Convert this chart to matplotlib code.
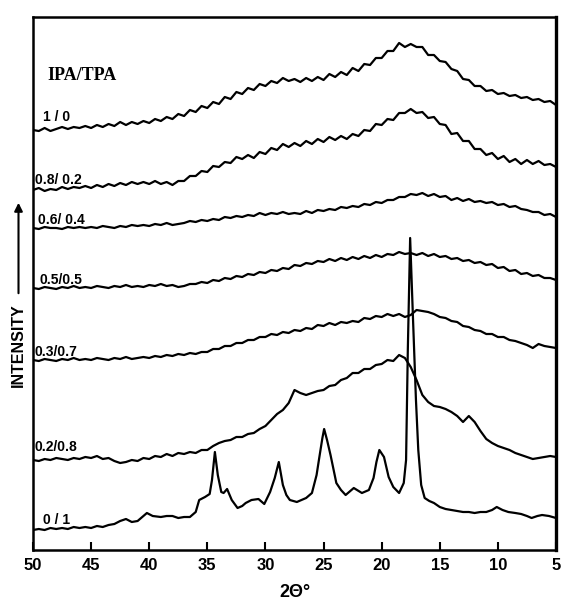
"""WAXD patterns of IPA/TPA copolyesters (scan redraw)."""
import matplotlib
matplotlib.use("Agg")
import matplotlib.pyplot as plt
import numpy as np

# 2-theta grid (deg) for the amorphous-looking traces, 50 -> 5 in 0.5 steps
TWO_THETA = np.linspace(50.0, 5.0, 91)

# intensities (arbitrary units, already offset per trace)
I_10 = [420, 419, 422, 419, 421, 423, 421, 423, 422, 424,
        422, 425, 423, 426, 424, 428, 425, 428, 426, 429,
        427, 431, 429, 433, 431, 436, 434, 440, 438, 444,
        442, 448, 446, 453, 451, 458, 456, 462, 460, 466,
        464, 469, 467, 472, 469, 471, 468, 472, 469, 473,
        470, 476, 473, 478, 475, 482, 479, 486, 485, 492,
        492, 499, 499, 507, 503, 506, 503, 503, 495, 495,
        489, 488, 481, 479, 471, 470, 464, 464, 459, 460,
        456, 457, 454, 455, 452, 453, 450, 451, 448, 449,
        445]
I_08 = [360, 362, 359, 361, 360, 363, 361, 363, 362, 364,
        362, 365, 363, 366, 364, 367, 365, 368, 366, 368,
        366, 369, 366, 368, 365, 369, 369, 374, 374, 379,
        378, 384, 383, 388, 387, 393, 391, 395, 392, 398,
        396, 402, 400, 406, 403, 407, 404, 409, 406, 411,
        408, 413, 410, 414, 411, 416, 414, 420, 419, 426,
        425, 431, 430, 437, 437, 441, 437, 438, 432, 433,
        426, 425, 416, 417, 409, 409, 401, 401, 395, 397,
        391, 394, 388, 391, 386, 390, 386, 389, 385, 386,
        383]
I_06 = [322, 321, 323, 322, 322, 321, 323, 322, 323, 322,
        323, 322, 324, 323, 322, 324, 323, 325, 324, 325,
        324, 326, 325, 327, 325, 326, 327, 329, 328, 330,
        329, 331, 330, 333, 332, 334, 333, 335, 334, 337,
        335, 337, 336, 338, 336, 337, 336, 339, 337, 340,
        339, 341, 340, 343, 342, 344, 343, 346, 345, 348,
        347, 350, 350, 353, 353, 356, 355, 357, 354, 356,
        353, 354, 350, 352, 349, 351, 348, 349, 347, 348,
        345, 346, 343, 344, 341, 340, 338, 338, 335, 336,
        333]
I_05 = [262, 261, 263, 262, 261, 263, 262, 264, 262, 263,
        262, 264, 263, 262, 264, 263, 265, 263, 264, 263,
        265, 264, 266, 264, 265, 263, 264, 266, 266, 268,
        267, 270, 269, 272, 271, 274, 273, 276, 275, 278,
        277, 280, 279, 282, 281, 285, 284, 287, 286, 289,
        288, 291, 289, 292, 290, 293, 291, 294, 292, 295,
        293, 296, 295, 298, 296, 297, 295, 297, 294, 296,
        293, 294, 291, 292, 289, 290, 287, 288, 285, 286,
        282, 283, 279, 280, 276, 277, 274, 275, 272, 272,
        270]
I_03 = [190, 189, 191, 190, 189, 191, 190, 192, 190, 191,
        190, 192, 191, 190, 192, 191, 193, 191, 192, 193,
        192, 194, 193, 195, 194, 196, 195, 197, 196, 198,
        198, 201, 201, 204, 204, 207, 207, 210, 210, 213,
        213, 216, 215, 218, 217, 220, 219, 222, 221, 225,
        224, 227, 225, 228, 227, 229, 228, 232, 231, 234,
        233, 236, 234, 236, 233, 235, 240, 239, 238, 236,
        233, 232, 229, 228, 224, 223, 220, 219, 216, 216,
        213, 213, 210, 209, 207, 205, 202, 206, 204, 203,
        202]
I_02 = [90, 89, 91, 90, 92, 91, 90, 92, 91, 93,
        92, 94, 91, 92, 89, 87, 88, 90, 89, 92,
        91, 94, 93, 96, 94, 97, 96, 98, 97, 100,
        100, 104, 107, 109, 110, 113, 113, 116, 117, 121,
        124, 130, 136, 140, 147, 160, 157, 155, 157, 159,
        160, 164, 165, 170, 172, 177, 177, 181, 181, 185,
        186, 190, 189, 195, 192, 183, 170, 155, 148, 144,
        143, 141, 138, 134, 128, 134, 128, 119, 111, 107,
        104, 102, 100, 97, 95, 93, 91, 92, 93, 94,
        93]

# pure TPA trace (semicrystalline), own sampling around the peaks
TT_00 = [50, 49.5, 49, 48.5, 48, 47.5, 47, 46.5, 46, 45.5, 45, 44.5, 44,
         43.5, 43, 42.5, 42, 41.5, 41, 40.5, 40.2, 39.7, 39, 38.5, 38, 37.5,
         37, 36.5, 36, 35.7, 35.2, 34.8, 34.6, 34.35, 34.1, 33.8, 33.6, 33.3,
         32.9, 32.4, 32, 31.7, 31.2, 30.6, 30.1, 29.6, 29.2, 28.85, 28.5,
         28.2, 27.9, 27.3, 26.5, 26, 25.6, 25.4, 25.1, 24.95, 24.7, 24.4,
         23.9, 23.5, 23.1, 22.4, 21.7, 21.1, 20.7, 20.45, 20.2, 19.8, 19.4,
         19.0, 18.5, 18.1, 17.9, 17.75, 17.55, 17.3, 17.05, 16.85, 16.6,
         16.3, 15.9, 15.5, 15.0, 14.5, 14.0, 13.5, 13.0, 12.5, 12.0, 11.5,
         11.0, 10.5, 10.1, 9.6, 9.1, 8.5, 8.0, 7.5, 7.1, 6.6, 6.2, 5.6, 5.0]
I_00 = [20, 21, 20, 22, 21, 22, 21, 23, 22, 23, 22, 24, 23,
        25, 26, 29, 31, 28, 29, 34, 37, 34, 33, 34, 34, 32,
        33, 33, 38, 50, 53, 56, 70, 98, 75, 58, 57, 61,
        50, 42, 44, 47, 50, 51, 46, 58, 72, 88, 65,
        55, 50, 48, 52, 57, 75, 90, 112, 121, 110, 95,
        67, 60, 55, 62, 57, 60, 72, 88, 100, 93, 73,
        63, 57, 67, 90, 200, 312, 230, 150, 100, 65,
        52, 49, 47, 43, 41, 40, 39, 38, 38, 37, 38,
        38, 40, 43, 40, 38, 37, 36, 34, 32, 34, 35, 34, 32]

LABELS = ["1 / 0", "0.8/ 0.2", "0.6/ 0.4", "0.5/0.5", "0.3/0.7", "0.2/0.8", "0 / 1"]
LABEL_POS = [(49.15, 433), (49.83, 370), (49.57, 330), (49.4, 270),
             (49.83, 198), (49.83, 103), (49.15, 30)]
XTICKS = [50, 45, 40, 35, 30, 25, 20, 15, 10, 5]

W, H = 564, 601
fig = plt.figure(figsize=(W / 100, H / 100), dpi=100)
# right edge pulled in a few px so the last tick label is not clipped
ax = fig.add_axes([33 / W, 1 - 550 / H, (556 - 33) / W, (550 - 17) / H])

for ys in [I_10, I_08, I_06, I_05, I_03, I_02]:
    ax.plot(TWO_THETA, ys, color="black", lw=1.6)
ax.plot(TT_00, I_00, color="black", lw=1.6)

ax.set_xlim(50, 5)
ax.set_ylim(0, 533)
ax.set_yticks([])
ax.set_xticks(XTICKS)
ax.set_xticklabels([str(t) for t in XTICKS], fontfamily="Liberation Sans",
                   fontweight="bold", fontsize=12)
ax.tick_params(axis="x", direction="in", length=6, width=1.5, pad=6)
for side in ["left", "bottom", "top"]:
    ax.spines[side].set_linewidth(1.8)
ax.spines["right"].set_linewidth(2.4)

ax.text(48.8, 475, "IPA/TPA", fontfamily="Liberation Serif", fontweight="bold",
        fontsize=13, ha="left", va="center")
for lab, (tx, ty) in zip(LABELS, LABEL_POS):
    ax.text(tx, ty, lab, fontfamily="Liberation Sans", fontweight="bold",
            fontsize=10, ha="left", va="center")

ax.set_xlabel("2Θ°", fontfamily="Liberation Sans", fontweight="bold",
              fontsize=13, labelpad=8)

# rotated intensity label with its upward arrow
fig.text(18.5 / W, 1 - 345 / H, "INTENSITY", rotation=90, ha="center", va="center",
         fontfamily="Liberation Sans", fontweight="bold", fontsize=11.5)
ax.annotate("", xy=(18.5 / W, 1 - 200 / H), xytext=(18.5 / W, 1 - 296 / H),
            xycoords="figure fraction", textcoords="figure fraction",
            arrowprops=dict(arrowstyle="-|>", lw=1.5, color="black",
                            mutation_scale=12))

fig.savefig("out.png", dpi=100)
